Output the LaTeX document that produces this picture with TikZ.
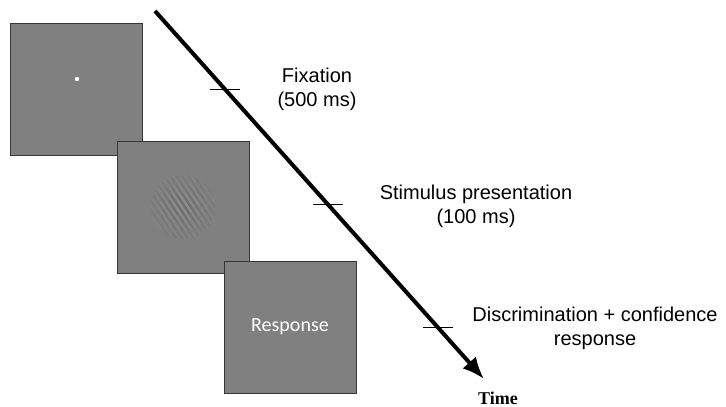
\documentclass[tikz,border=0pt]{standalone}
\usepackage{fontspec}
\setmainfont{Liberation Sans}
\newfontfamily\respfont{Carlito}
\newfontfamily\timefont{Liberation Serif}
\usetikzlibrary{arrows.meta,calc}
\definecolor{screengray}{RGB}{128,128,128}
\definecolor{screenedge}{RGB}{55,55,55}
\tikzset{
  screen/.style={draw=screenedge, line width=1pt, fill=screengray, minimum size=132pt, inner sep=0pt, outer sep=0pt},
  phase/.style={align=center, font=\fontsize{20}{24}\selectfont},
  timetick/.style={line width=0.9pt},
}
\begin{document}
\begin{tikzpicture}[x=1pt,y=-1pt]
        \useasboundingbox (0,0) rectangle (726,407);

        % the three screens
        \node[screen] (fix) at (76,89) {};
        \fill[white] ($(fix.center)+(1,-10)$) circle (2.2);

        \node[screen] (stim) at (183,207) {};
        \foreach \r in {32,24,16,9} {
            \begin{scope}
                \clip (stim.center) circle (\r);
                \foreach \s in {-40,-34,...,40}
                    \draw[black, opacity=0.035, line width=2pt] ($(stim.center)+(\s,0)$) ++(-22,-33) -- ++(44,66);
                \foreach \s in {-37,-31,...,37}
                    \draw[white, opacity=0.03, line width=2pt] ($(stim.center)+(\s,0)$) ++(-22,-33) -- ++(44,66);
            \end{scope}
        }

        \node[screen, text=white, font=\respfont\fontsize{20}{24}\selectfont] (resp) at (290,327) {Response};

        % time axis
        \coordinate (t0) at (155,11);
        \coordinate (t1) at (484,379);
        \draw[line width=4pt, -{Latex[length=22pt,width=18pt]}] (t0) -- (t1);

        \foreach \p/\n in {0.212/1, 0.527/2, 0.861/3} {
            \coordinate (k\n) at ($(t0)!\p!(t1)$);
            \draw[timetick] ([xshift=-15pt]k\n) -- ([xshift=15pt]k\n);
        }

        \node[phase] (lfix) at (317,89) {Fixation\\(500 ms)};
        \node[phase] (lstim) at (476,206) {Stimulus presentation\\(100 ms)};
        \node[phase] (ldisc) at (595,328) {Discrimination + confidence\\response};
        \node[font=\timefont\bfseries\fontsize{18}{20}\selectfont] (ltime) at (498,398) {Time};
\end{tikzpicture}
\end{document}
